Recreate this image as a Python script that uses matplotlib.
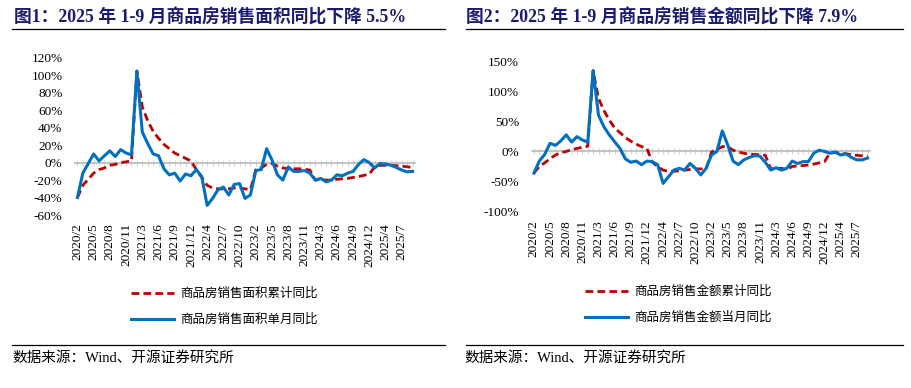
import numpy as np
import matplotlib
matplotlib.use('Agg')
import matplotlib.pyplot as plt

plt.rcParams['font.family'] = ['Liberation Serif', 'Noto Sans CJK SC', 'DejaVu Sans']

# months: China publishes Jan-Feb combined, so no January points
months = [f'{y}/{m}' for y in range(2020, 2026) for m in range(2, 13) if not (y == 2025 and m > 9)]

# fig 1: sales area yoy (%)
area_cum = [-40, -26, -19, -12, -8, -6, -3, -2, 0, 1, 2,
            105, 64, 48, 36, 28, 21, 16, 11, 8, 5, 2,
            -8, -17, -26, -29, -30, -30, -30, -29, -29, -30, -31,
            -8, -6, -2, -1, -4, -6, -7, -7, -7, -7.5, -8.5,
            -20, -19, -20, -20, -19, -18.5, -18, -17, -16, -14.5, -13,
            -5, -3, -3, -3, -3.5, -4, -4.7, -5.5]
area_mon = [-40, -12, -1, 10, 2, 8, 13.5, 7, 15, 11, 9,
            105, 35, 22, 10, 8, -7, -14, -12, -21, -13, -15,
            -8, -16, -49, -41, -31, -28, -37, -25, -24, -41, -37,
            -9, -8, 16, 3, -14, -20, -5, -10, -10, -9, -12,
            -20, -18, -22, -20, -14, -15, -12, -10, -2, 3.5, 0,
            -6, -1, -1.5, -3, -5.5, -8.5, -10.5, -10]

# fig 2: sales amount yoy (%)
amt_cum = [-36, -25, -19, -12, -6, -2, 0, 3, 5, 7, 8.5,
           134, 88, 68, 52, 39, 31, 23, 17, 12, 8, 5,
           -18, -25, -31, -33, -33, -32, -31, -30, -29, -29, -29,
           -1, 3, 8, 8, 2, -1, -3, -4.5, -5, -5.5, -6.5,
           -29, -28, -28, -30, -25, -24, -23.5, -22.5, -21, -19, -17,
           -2.5, -2, -3, -4, -5.5, -6.5, -7.3, -7.9]
amt_mon = [-36, -16, -5, 13.5, 10, 17.5, 27.5, 15.5, 24.5, 19, 15.5,
           134, 60, 41, 27.5, 16, 5, -12.5, -18, -16, -22, -16,
           -17, -22, -53, -42, -31, -28, -31, -20, -28, -39, -28,
           -6, 0, 34, 11, -16, -22, -14, -10, -7, -8, -18,
           -31, -27, -31, -28, -16, -20, -17, -17, -3, 2, 0,
           -3, -1, -6, -4, -10, -14, -14, -11]

titles = ['图1：2025 年 1-9 月商品房销售面积同比下降 5.5%',
          '图2：2025 年 1-9 月商品房销售金额同比下降 7.9%']
leg1 = ['商品房销售面积累计同比', '商品房销售面积单月同比']
leg2 = ['商品房销售金额累计同比', '商品房销售金额当月同比']
source = '数据来源：Wind、开源证券研究所'

red, blue = '#C00000', '#0070C0'
W, H = 911, 388
fig = plt.figure(figsize=(W / 100, H / 100), dpi=100)


def panel(rect, cum, mon, yticks, labels, leg_xy):
    ax = fig.add_axes([rect[0] / W, 1 - rect[3] / H, (rect[2] - rect[0]) / W, (rect[3] - rect[1]) / H])
    x = np.arange(len(months))
    l1, = ax.plot(x, cum, color=red, lw=2.0, dashes=(2.8, 1.5), zorder=3)
    l2, = ax.plot(x, mon, color=blue, lw=2.2, solid_joinstyle='round', zorder=4)
    ax.set_xlim(-0.45, len(months) - 0.55)
    ax.set_ylim(yticks[0], yticks[-1])
    ax.set_yticks(yticks)
    ax.set_yticklabels([f'{v}%' for v in yticks], fontsize=9.5)
    ax.tick_params(axis='y', length=0, pad=9)
    for s in ['left', 'right', 'top']:
        ax.spines[s].set_visible(False)
    ax.spines['bottom'].set_position(('data', 0))
    ax.spines['bottom'].set_color('#BFBFBF')
    ax.spines['bottom'].set_linewidth(1.3)
    ax.set_xticks(x)
    ax.tick_params(axis='x', direction='inout', length=5, color='#D6D6D6', width=0.8, labelbottom=False)
    sec = ax.secondary_xaxis('bottom')
    sec.set_xticks(x[::3])
    sec.set_xticklabels(months[::3], rotation=90, fontsize=9.5)
    sec.tick_params(length=0, pad=6)
    sec.spines['bottom'].set_visible(False)
    fig.legend([l1, l2], labels, loc='upper left', bbox_to_anchor=(leg_xy[0] / W, 1 - leg_xy[1] / H),
               frameon=False, handlelength=3.4, handletextpad=0.5, labelspacing=1.05,
               borderpad=0, borderaxespad=0, prop={'family': ['Noto Sans CJK SC'], 'size': 9})
    return ax


panel((75, 58, 415, 215), area_cum, area_mon, list(range(-60, 121, 20)), leg1, (131, 287))
panel((531.5, 61, 870, 211.7), amt_cum, amt_mon, list(range(-100, 151, 50)), leg2, (585, 285))

for i, (tx, t) in enumerate(zip([14, 466], titles)):
    fig.text(tx / W, 1 - 18 / H, t, fontsize=12.8, fontweight='bold', color='#1C1C6E', va='center', ha='left')
    fig.text((tx - 2) / W, 1 - 358 / H, source, fontsize=10.5, va='center', ha='left')
    x0, x1 = (12, 445) if i == 0 else (466, 903)
    fig.add_artist(plt.Line2D([x0 / W, x1 / W], [1 - 28.5 / H] * 2, color='black', lw=0.9))
    fig.add_artist(plt.Line2D([x0 / W, x1 / W], [1 - 345 / H] * 2, color='black', lw=0.9))

fig.savefig('out.png', dpi=100)
